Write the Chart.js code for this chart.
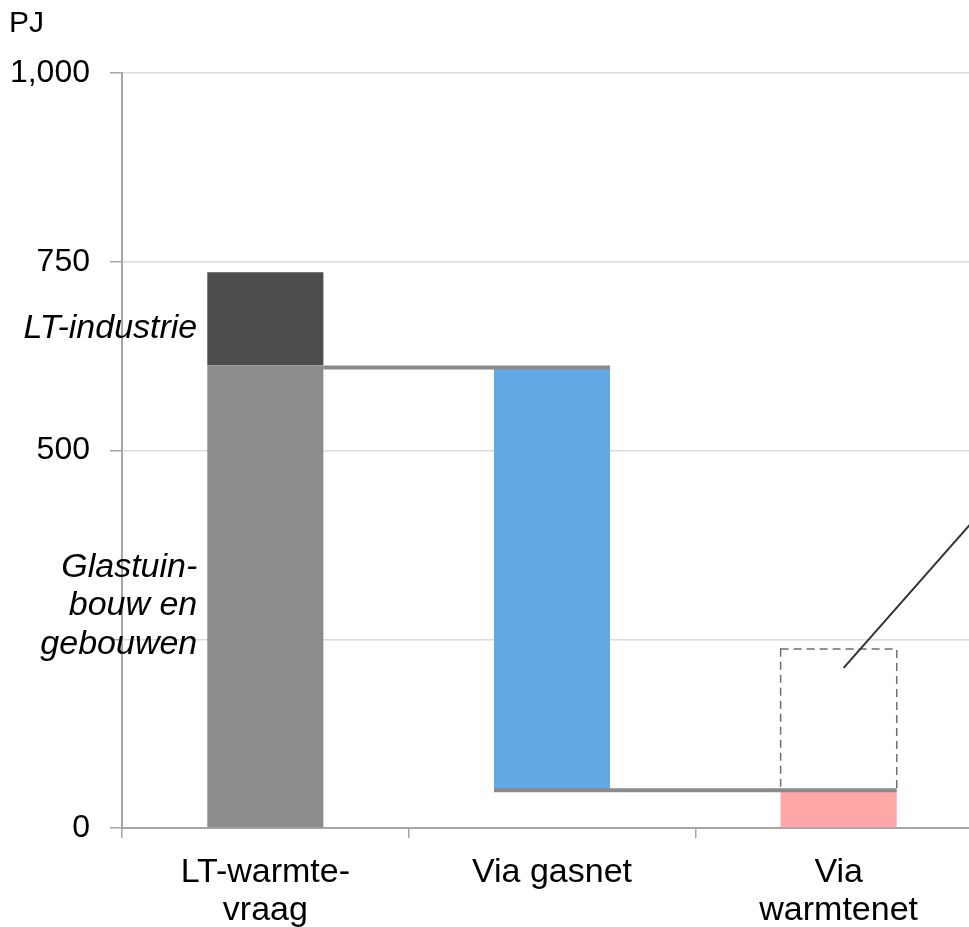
<!DOCTYPE html>
<html>
<head>
<meta charset="utf-8">
<script src="https://cdn.jsdelivr.net/npm/chart.js@4/dist/chart.umd.min.js"></script>
<style>
  html, body { margin: 0; padding: 0; background: #fff; overflow: hidden; }
  #wrap { position: relative; width: 985px; height: 927px; }
</style>
</head>
<body>
<div id="wrap"><canvas id="lowTempChart" width="985" height="927"></canvas></div>
<script>
// LT-warmtevraag (PJ) and how it is supplied
const categories = [["LT-warmte-", "vraag"], "Via gasnet", ["Via", "warmtenet"]];

const gebouwen = [[0, 613], null, null];          // Glastuinbouw en gebouwen
const industrie = [[613, 736], null, null];       // LT-industrie
const gasnet = [null, [50, 610], null];
const warmtenet = [null, null, [0, 50]];
const warmtenetPotentieel = [null, null, [50, 237]]; // dashed outline

const connectorLevels = [610, 50];
const yTicks = [0, 250, 500, 750, 1000];
const yTickLabels = ["0", "", "500", "750", "1,000"];

const FONT = "'Liberation Sans', Arial, sans-serif";

// connectors, dashed box, pointer line and side labels
const extras = {
    id: "extras",
    afterDatasetsDraw(chart) {
        const ctx = chart.ctx;
        const y = chart.scales.y;
        const bar = (ds, i) => chart.getDatasetMeta(ds).data[i];

        // dashed outline for the potential warmtenet bar
        const box = bar(4, 2);
        ctx.save();
        ctx.strokeStyle = "#6e6e6e";
        ctx.lineWidth = 1.5;
        ctx.setLineDash([8, 5]);
        ctx.strokeRect(box.x - box.width / 2, box.y, box.width, box.base - box.y);
        ctx.restore();

        // waterfall connectors
        ctx.save();
        ctx.strokeStyle = "#8a8a8a";
        ctx.lineWidth = 4;
        const b0 = bar(0, 0), b2 = bar(2, 1), b3 = bar(3, 2);
        let py = y.getPixelForValue(connectorLevels[0]);
        ctx.beginPath();
        ctx.moveTo(b0.x + b0.width / 2, py);
        ctx.lineTo(b2.x + b2.width / 2, py);
        ctx.stroke();
        py = y.getPixelForValue(connectorLevels[1]);
        ctx.beginPath();
        ctx.moveTo(b2.x - b2.width / 2, py);
        ctx.lineTo(b3.x + b3.width / 2, py);
        ctx.stroke();
        ctx.restore();

        // pointer line toward an annotation off to the right
        ctx.save();
        ctx.strokeStyle = "#333";
        ctx.lineWidth = 2;
        const sx = box.x + 5, sy = y.getPixelForValue(212);
        const ex = sx + 160, ey = sy - 160 * 143 / 126;
        ctx.beginPath();
        ctx.moveTo(sx, sy);
        ctx.lineTo(ex, ey);
        ctx.stroke();
        ctx.restore();
    },
    afterDraw(chart) {
        const ctx = chart.ctx;
        const y = chart.scales.y;
        const b0 = chart.getDatasetMeta(0).data[0];
        const tx = b0.x - b0.width / 2 - 10;
        ctx.save();
        ctx.fillStyle = "#000";
        ctx.textAlign = "right";
        ctx.textBaseline = "middle";
        ctx.font = "italic 34px " + FONT;
        ctx.fillText("LT-industrie", tx, y.getPixelForValue(662));
        ["Glastuin-", "bouw en", "gebouwen"].forEach((t, i) => {
            ctx.fillText(t, tx, y.getPixelForValue(345) + i * 38.5);
        });
        ctx.textAlign = "left";
        ctx.font = "30px " + FONT;
        ctx.fillText("PJ", 9, 24);
        ctx.restore();
    }
};

const ctx = document.getElementById("lowTempChart").getContext("2d");
new Chart(ctx, {
    type: "bar",
    data: {
        labels: categories,
        datasets: [
            { label: "Glastuinbouw en gebouwen", data: gebouwen, backgroundColor: "#8c8c8c" },
            { label: "LT-industrie", data: industrie, backgroundColor: "#4d4d4d" },
            { label: "Via gasnet", data: gasnet, backgroundColor: "#62a8e2" },
            { label: "Via warmtenet", data: warmtenet, backgroundColor: "#ffa6a6" },
            { label: "Potentieel warmtenet", data: warmtenetPotentieel, backgroundColor: "rgba(0,0,0,0)" }
        ]
    },
    options: {
        responsive: false,
        animation: false,
        events: [],
        layout: { padding: { top: 73, right: 3, left: 0, bottom: 0 } },
        datasets: {
            bar: { grouped: false, barPercentage: 0.405, categoryPercentage: 1 }
        },
        plugins: {
            legend: { display: false },
            tooltip: { enabled: false }
        },
        scales: {
            x: {
                offset: true,
                grid: {
                    offset: true,
                    drawOnChartArea: false,
                    drawTicks: true,
                    tickLength: 10,
                    tickColor: "#a6a6a6",
                    lineWidth: 1.5
                },
                border: { color: "#a6a6a6", width: 2 },
                ticks: {
                    color: "#000",
                    padding: 15,
                    maxRotation: 0,
                    font: { family: FONT, size: 34, lineHeight: 1.13 }
                },
                afterFit(scale) { scale.height = 99; }
            },
            y: {
                min: 0,
                max: 1000,
                afterBuildTicks(scale) { scale.ticks = yTicks.map(v => ({ value: v })); },
                grid: {
                    color: "#dcdcdc",
                    lineWidth: 1.5,
                    tickLength: 12,
                    tickColor: "#a6a6a6"
                },
                border: { color: "#a6a6a6", width: 2 },
                ticks: {
                    color: "#000",
                    padding: 20,
                    font: { family: FONT, size: 32 },
                    callback: (v) => yTickLabels[yTicks.indexOf(v)]
                },
                afterFit(scale) { scale.width = 122; }
            }
        }
    },
    plugins: [extras]
});
</script>
</body>
</html>
